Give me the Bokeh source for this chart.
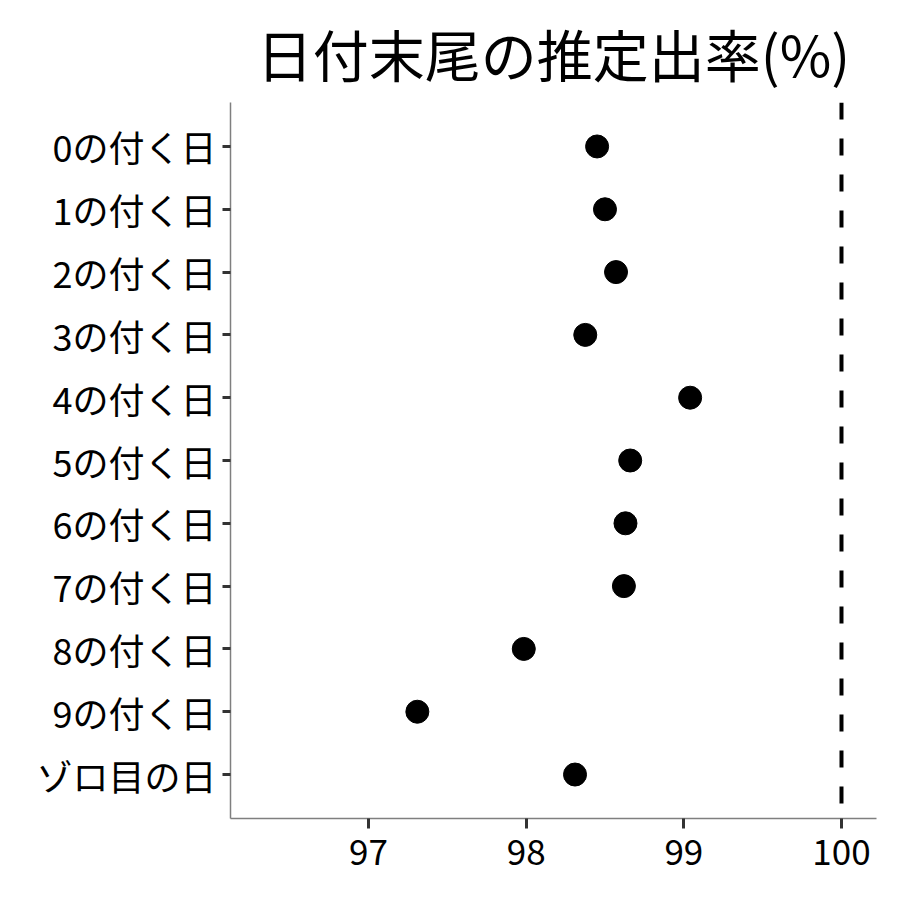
from bokeh.embed import file_html
from bokeh.models import FactorRange, Range1d, Span, Title, FixedTicker
from bokeh.plotting import figure
from bokeh.resources import INLINE

FONT = "Noto Sans CJK JP"

TITLE = "日付末尾の推定出率(%)"
days = ["0の付く日", "1の付く日", "2の付く日", "3の付く日", "4の付く日",
        "5の付く日", "6の付く日", "7の付く日", "8の付く日", "9の付く日", "ゾロ目の日"]
rates = [98.45, 98.50, 98.57, 98.375, 99.04, 98.66, 98.63, 98.62, 97.985, 97.31, 98.31]
x_ticks = [97, 98, 99, 100]
reference_rate = 100

p = figure(
    width=884, height=884,
    y_range=FactorRange(factors=days[::-1], range_padding=0.2, range_padding_units="absolute"),
    x_range=Range1d(96.125, 100.222),
    output_backend="svg", toolbar_location=None,
    min_border_left=230, min_border_right=8, min_border_top=101, min_border_bottom=66,
)
# title box is ~82px tall, standoff fills the rest of the 101px top border
p.title = Title(text=TITLE, align="center", text_font=FONT, text_font_size="56px",
                text_font_style="normal", text_color="black", standoff=19)

p.scatter(x=rates, y=days, size=23, color="black")
p.add_layout(Span(location=reference_rate, dimension="height", line_color="black",
                  line_width=4, line_dash="17 19"))

p.xgrid.visible = False
p.ygrid.visible = False
p.outline_line_color = None

for ax in (p.xaxis, p.yaxis):
    ax.axis_line_color = "#7f7f7f"
    ax.axis_line_width = 1.5
    ax.major_tick_line_color = "#333333"
    ax.major_tick_line_width = 3
    ax.major_tick_in = 0
    ax.minor_tick_line_color = None
    ax.major_label_text_font = FONT
    ax.major_label_text_color = "black"

p.xaxis.ticker = FixedTicker(ticks=x_ticks)
p.xaxis.major_label_text_font_size = "35px"
p.xaxis.major_tick_out = 10
p.xaxis.major_label_standoff = 10
p.yaxis.major_label_text_font_size = "36px"
p.yaxis.major_tick_out = 8
p.yaxis.major_label_standoff = 6

open("out.html", "w").write(file_html(p, INLINE))
